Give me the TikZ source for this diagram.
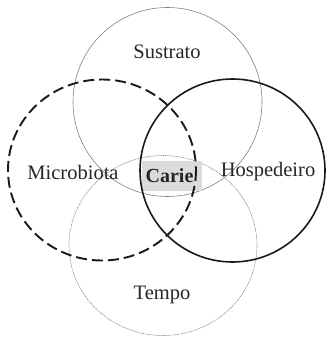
\documentclass[tikz,border=0pt]{standalone}
\usepackage{fontspec}
\setmainfont{Liberation Serif}
\begin{document}
\begin{tikzpicture}[x=1pt,y=-1pt,
  lbl/.style={font=\fontsize{20.5}{23}\selectfont, text=black!85, inner sep=0pt},
  sub/.style={draw=black!50, line width=0.6pt},
  mic/.style={draw=black!90, line width=1.9pt, dash pattern=on 11pt off 5pt},
  hos/.style={draw=black!90, line width=1.6pt},
  tem/.style={draw=black!50, line width=0.6pt, dash pattern=on 1pt off 0.8pt}]
\useasboundingbox (0,0) rectangle (329,337);
\draw[sub] (167.5,102) ellipse [x radius=94.5, y radius=94.5];
\draw[tem] (163,245.5) ellipse [x radius=94, y radius=90];
\node[fill=black!14, minimum width=60, minimum height=30, inner sep=0pt] (box) at (172,176) {};
\draw[mic] (102,170) ellipse [x radius=94, y radius=90.5];
\draw[hos] (232.5,170.5) ellipse [x radius=92.5, y radius=91.5];
\node[lbl] (s) at (167,52) {Sustrato};
\node[lbl] (m) at (73,172) {Microbiota};
\node[lbl] (h) at (268,172) {Hospedeiro};
\node[lbl] (t) at (162,295) {Tempo};
\node[lbl, font=\fontsize{20}{23}\selectfont\bfseries] (c) at (169.5,176) {Carie};
\end{tikzpicture}
\end{document}
